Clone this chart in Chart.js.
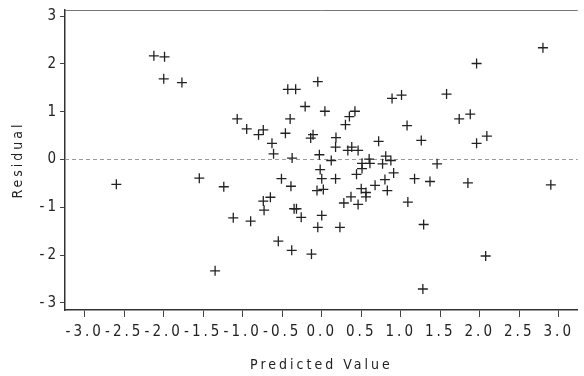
<!DOCTYPE html>
<html lang="en">
<head>
<meta charset="UTF-8">
<title>Residual Plot</title>
<script src="https://cdn.jsdelivr.net/npm/chart.js"></script>
<style>
    html, body { margin: 0; padding: 0; background: #fff; }
    #wrap { width: 584px; height: 376px; }
</style>
</head>
<body>
<div id="wrap"><canvas id="chart"></canvas></div>
<script>
    // predicted value / residual pairs
    const predicted = [
        -2.125, -1.99, -2.0, -1.77, -1.07, -2.60, -1.55, -1.24, -1.12, -1.35,
        -0.95, -0.80, -0.74, -0.63, -0.61, -0.46, -0.40, -0.43, -0.33, -0.21,
        -0.05, 0.04, -0.375, -0.14, -0.11, -0.03, 0.12, 0.18, 0.175, 0.30,
        0.35, 0.42, 0.33, 0.38, 0.46, 0.51, 0.60, 0.72, 0.81, 0.875,
        0.77, 0.89, 1.01, 1.08, 1.58, 1.96, 2.80, 1.74, 1.88, 1.26,
        1.96, 2.09, 1.46, 1.175, 1.37, 1.85, 2.90, 1.09, 1.29, 2.075,
        1.28, 0.51, -0.02, 0.91, -0.51, 0.0, 0.175, 0.44, 0.80, -0.39,
        -0.06, 0.02, 0.50, 0.56, 0.56, 0.675, 0.83, 0.37, 0.28, 0.46,
        -0.74, -0.65, -0.73, -0.90, -0.35, -0.32, -0.26, 0.0, -0.05, 0.23,
        -0.55, -0.38, -0.13, 0.61
    ];
    const residual = [
        2.17, 2.15, 1.69, 1.61, 0.85, -0.52, -0.39, -0.57, -1.22, -2.33,
        0.64, 0.52, 0.62, 0.34, 0.12, 0.55, 0.85, 1.47, 1.47, 1.11,
        1.63, 1.01, 0.03, 0.45, 0.52, 0.10, -0.02, 0.46, 0.26, 0.73,
        0.90, 1.01, 0.19, 0.26, 0.19, -0.08, 0.01, 0.38, 0.07, -0.02,
        -0.09, 1.28, 1.35, 0.71, 1.37, 2.01, 2.34, 0.85, 0.95, 0.40,
        0.34, 0.49, -0.09, -0.40, -0.46, -0.49, -0.53, -0.89, -1.36, -2.02,
        -2.71, -0.19, -0.21, -0.28, -0.40, -0.40, -0.40, -0.31, -0.42, -0.56,
        -0.65, -0.625, -0.61, -0.69, -0.78, -0.54, -0.65, -0.78, -0.91, -0.94,
        -0.87, -0.79, -1.06, -1.29, -1.03, -1.03, -1.21, -1.17, -1.42, -1.42,
        -1.71, -1.90, -1.98, -0.08
    ];
    const xTicks = [-3.0, -2.5, -2.0, -1.5, -1.0, -0.5, 0.0, 0.5, 1.0, 1.5, 2.0, 2.5, 3.0];
    const yTicks = [-3, -2, -1, 0, 1, 2, 3];

    const points = predicted.map((p, i) => ({ x: p, y: residual[i] }));
    const tickFont = { family: '"Liberation Sans Narrow", "DejaVu Sans Condensed", "DejaVu Sans", sans-serif', size: 15 };

    // dashed zero line, top frame line and letter spacing for the typewriter look
    const framePlugin = {
        id: 'frame',
        beforeDraw(chart) {
            chart.ctx.letterSpacing = '3px';
        },
        beforeDatasetsDraw(chart) {
            const { ctx, chartArea, scales } = chart;
            const y0 = scales.y.getPixelForValue(0);
            ctx.save();
            ctx.strokeStyle = '#999';
            ctx.lineWidth = 1;
            ctx.setLineDash([4, 3]);
            ctx.beginPath();
            ctx.moveTo(chartArea.left, y0);
            ctx.lineTo(chartArea.right, y0);
            ctx.stroke();
            ctx.setLineDash([]);
            ctx.strokeStyle = '#777';
            ctx.beginPath();
            ctx.moveTo(chartArea.left, chartArea.top + 0.5);
            ctx.lineTo(chartArea.right, chartArea.top + 0.5);
            ctx.stroke();
            ctx.restore();
        },
        afterDraw(chart) {
            chart.ctx.letterSpacing = '0px';
        }
    };

    new Chart(document.getElementById('chart'), {
        type: 'scatter',
        data: {
            datasets: [{
                data: points,
                pointStyle: 'cross',
                pointRadius: 5,
                borderColor: '#222',
                borderWidth: 1.3,
                backgroundColor: '#222'
            }]
        },
        options: {
            responsive: true,
            maintainAspectRatio: false,
            animation: false,
            layout: { padding: { top: 9, right: 0, left: 0, bottom: 0 } },
            plugins: { legend: { display: false }, tooltip: { enabled: false } },
            scales: {
                x: {
                    type: 'linear',
                    min: -3.25,
                    max: 3.24,
                    afterFit(scale) { scale.height = 66; },
                    afterBuildTicks(scale) { scale.ticks = xTicks.map(v => ({ value: v })); },
                    ticks: {
                        color: '#222',
                        font: tickFont,
                        padding: 6,
                        maxRotation: 0,
                        autoSkip: false,
                        callback: v => v.toFixed(1)
                    },
                    grid: { drawOnChartArea: false, drawTicks: true, tickLength: 7, color: '#444' },
                    border: { color: '#333', width: 1.5 },
                    title: {
                        display: true,
                        text: 'Predicted Value',
                        color: '#222',
                        font: { family: tickFont.family, size: 14 },
                        padding: { top: 4, bottom: 2 }
                    }
                },
                y: {
                    type: 'linear',
                    min: -3.15,
                    max: 3.13,
                    afterFit(scale) { scale.width = 65; },
                    afterBuildTicks(scale) { scale.ticks = yTicks.map(v => ({ value: v })); },
                    ticks: {
                        color: '#222',
                        font: tickFont,
                        padding: 1,
                        callback: v => String(v)
                    },
                    grid: { drawOnChartArea: false, drawTicks: true, tickLength: 5, color: '#444' },
                    border: { color: '#333', width: 1.5 },
                    title: {
                        display: true,
                        text: 'Residual',
                        color: '#222',
                        font: { family: tickFont.family, size: 14 },
                        padding: { top: 10, bottom: 0 }
                    }
                }
            }
        },
        plugins: [framePlugin]
    });
</script>
</body>
</html>
